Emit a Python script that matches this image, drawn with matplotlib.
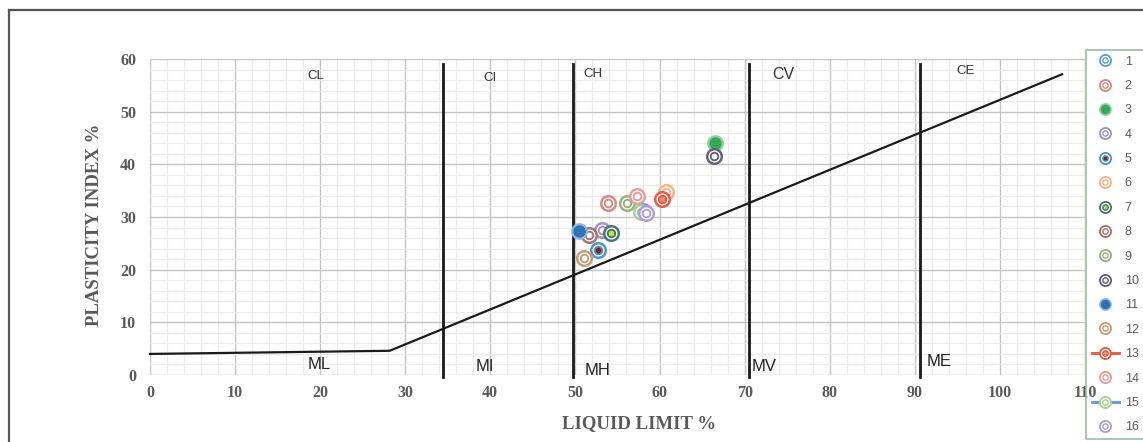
import numpy as np
import matplotlib.pyplot as plt
from matplotlib.lines import Line2D

# sample data (liquid limit / plasticity index), one point per sample
labels = [str(i) for i in range(1, 17)]
liquid_limit = [58.0, 53.9, 66.5, 53.2, 52.7, 60.7, 54.2, 51.6, 56.1, 66.4, 50.5, 51.1, 60.2, 57.3, 57.8, 58.3]
plasticity = [31.2, 32.6, 44.1, 27.6, 23.8, 34.8, 26.9, 26.5, 32.6, 41.6, 27.4, 22.3, 33.5, 33.9, 30.9, 30.8]

# A-line and zone boundaries
aline_ll = [0, 28.2, 107.3]
aline_pi = [4.0, 4.6, 57.1]
zone_ll = [34.5, 49.8, 70.5, 90.6]
upper_zones = ['CL', 'CI', 'CH', 'CV', 'CE']
upper_x = [19.5, 40.0, 52.1, 74.5, 96.0]
upper_y = [56.8, 56.4, 57.1, 57.1, 57.7]
lower_zones = ['ML', 'MI', 'MH', 'MV', 'ME']
lower_x = [19.9, 39.4, 52.6, 72.2, 92.8]
lower_y = [1.9, 1.7, 0.9, 1.7, 2.5]

# marker styling: ring colour, centre colour
ring = ['#5B9BD5', '#D9857E', '#8FD19E', '#9B8FC8', '#4A8FC0', '#F4B183', '#3F6F70', '#9E6F6A',
        '#8FAF7A', '#5F5A78', '#8DB8E0', '#C49A6C', '#E8553F', '#E39A9A', '#A9D08E', '#A99BD6']
centre = ['white', 'white', '#35A85A', 'white', '#8B1E22', 'white', '#CCDD33', 'white',
          'white', 'white', '#2E72B4', 'white', '#F08A70', 'white', 'white', 'white']
filled = [False, False, True, False, False, False, False, False, False, False, True, False, False, False, False, False]
legend_line = {12: '#E8553F', 14: '#5B9BD5'}

grey = '#595959'
fig = plt.figure(figsize=(11.43, 4.42), dpi=100)
ax = fig.add_axes([150 / 1143, 1 - 375 / 442, 935 / 1143, 316 / 442])

ax.set_xlim(0, 110)
ax.set_ylim(0, 60)
ax.set_xticks(np.arange(0, 111, 10))
ax.set_yticks(np.arange(0, 61, 10))
ax.set_xticks(np.arange(0, 111, 2), minor=True)
ax.set_yticks(np.arange(0, 61, 2), minor=True)
ax.grid(which='major', color='#C4C4C4', lw=1.0)
ax.grid(which='minor', color='#EAEAEA', lw=0.8)
ax.set_axisbelow(True)
for s in ax.spines.values():
    s.set_visible(False)
ax.tick_params(which='both', length=0)
ax.tick_params(axis='x', pad=7)
ax.tick_params(axis='y', pad=10)
for t in ax.get_xticklabels() + ax.get_yticklabels():
    t.set_fontfamily('Liberation Serif')
    t.set_fontweight('bold')
    t.set_fontsize(11.5)
    t.set_color(grey)

ax.set_xlabel('LIQUID LIMIT %', fontfamily='Liberation Serif', fontweight='bold', fontsize=13.5, color=grey)
ax.set_ylabel('PLASTICITY INDEX %', fontfamily='Liberation Serif', fontweight='bold', fontsize=13.5, color=grey)
ax.xaxis.set_label_coords(0.523, -0.128)
ax.yaxis.set_label_coords(-0.050, 0.475)

ax.plot(aline_ll, aline_pi, color='#1a1a1a', lw=1.6, clip_on=False)
for x in zone_ll:
    ax.plot([x, x], [-0.4, 59], color='#1a1a1a', lw=2.0, clip_on=False)

for lab, x, y in zip(upper_zones, upper_x, upper_y):
    fs = 11.5 if lab == 'CV' else 9.5
    ax.text(x, y, lab, ha='center', va='center', fontsize=fs, fontfamily='Liberation Sans', color='#333333')
for lab, x, y in zip(lower_zones, lower_x, lower_y):
    ax.text(x, y, lab, ha='center', va='center', fontsize=12, fontfamily='Liberation Sans', color='#222222')

handles = []
for i in range(16):
    x, y = liquid_limit[i], plasticity[i]
    if filled[i]:
        ax.scatter([x], [y], s=110, facecolor=centre[i], edgecolor=ring[i], lw=1.6, zorder=3)
        outer = Line2D([], [], marker='o', ms=8, mfc=centre[i], mec=ring[i], mew=1.2, ls='none')
        handles.append(outer)
        continue
    ax.scatter([x], [y], s=110, facecolor='white', edgecolor=ring[i], lw=1.8, zorder=3, alpha=0.95)
    ax.scatter([x], [y], s=30, facecolor=centre[i], edgecolor=ring[i], lw=1.3, zorder=3)
    lc = legend_line.get(i)
    outer = Line2D([], [], marker='o', ms=8, mfc='white', mec=ring[i], mew=1.3,
                   color=lc if lc else 'none', lw=2.0 if lc else 0)
    inner = Line2D([], [], marker='o', ms=3.8, mfc=centre[i], mec=ring[i], mew=1.0, ls='none')
    handles.append((outer, inner))

leg = ax.legend(handles, labels, loc='upper left', bbox_to_anchor=(1086 / 1143, 1 - 50 / 442),
                bbox_transform=fig.transFigure, borderaxespad=0, numpoints=1,
                handlelength=2.2, handletextpad=0.45, labelspacing=0.99, borderpad=0.45,
                prop={'family': 'Liberation Sans', 'size': 9}, fancybox=False)
leg.get_frame().set_edgecolor('#86B39A')
leg.get_frame().set_linewidth(1.3)
leg.get_frame().set_facecolor('none')
for t in leg.get_texts():
    t.set_color(grey)

# outer chart border
fig.add_artist(Line2D([9 / 1143, 9 / 1143], [0, 1 - 9.5 / 442], transform=fig.transFigure, color='#555555', lw=1.6))
fig.add_artist(Line2D([9 / 1143, 1], [1 - 9.5 / 442, 1 - 9.5 / 442], transform=fig.transFigure, color='#555555', lw=1.6))

fig.savefig('out.png', dpi=100)
